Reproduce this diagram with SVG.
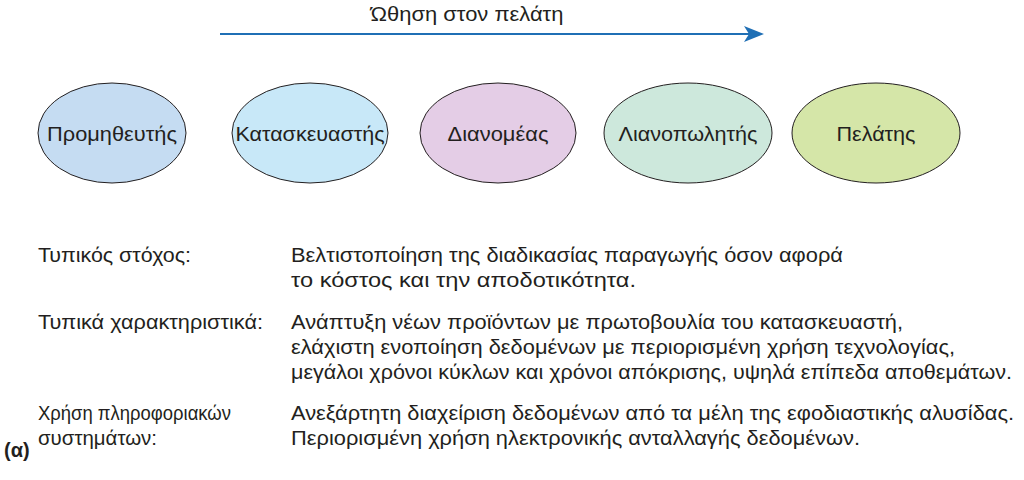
<svg xmlns="http://www.w3.org/2000/svg" width="1024" height="480" viewBox="0 0 1024 480">
<style>
text{font-family:"Liberation Sans",Arial,sans-serif;fill:#231f20}
.n{font-size:20px;text-anchor:middle}
.t{font-size:20px}
ellipse{stroke:#231f20;stroke-width:1}
</style>
<rect width="1024" height="480" fill="#fff"/>
<text x="467" y="21" class="t" text-anchor="middle" textLength="193" lengthAdjust="spacingAndGlyphs">Ώθηση στον πελάτη</text>
<g id="connectors"><path d="M220,34 L752,34" stroke="#1f6fb5" stroke-width="2" fill="none"/><path d="M744,26 L764,34 L744,42 L749,34 Z" fill="#1f6fb5"/></g>
<g id="n1"><ellipse cx="112" cy="133" rx="74" ry="50" fill="#c5dcf2"/><text x="112" y="141" class="n" textLength="130" lengthAdjust="spacingAndGlyphs">Προμηθευτής</text></g>
<g id="n2"><ellipse cx="310" cy="133" rx="78" ry="50" fill="#c8e8f8"/><text x="310" y="141" class="n" textLength="149" lengthAdjust="spacingAndGlyphs">Κατασκευαστής</text></g>
<g id="n3"><ellipse cx="498" cy="133" rx="78" ry="50" fill="#e4cde6"/><text x="498" y="141" class="n" textLength="101" lengthAdjust="spacingAndGlyphs">Διανομέας</text></g>
<g id="n4"><ellipse cx="688" cy="133" rx="84" ry="50" fill="#cde8dc"/><text x="688" y="141" class="n" textLength="139" lengthAdjust="spacingAndGlyphs">Λιανοπωλητής</text></g>
<g id="n5"><ellipse cx="876" cy="133" rx="84" ry="50" fill="#d5e6a8"/><text x="876" y="141" class="n" textLength="79" lengthAdjust="spacingAndGlyphs">Πελάτης</text></g>
<g>
<text x="38" y="262" class="t" textLength="153" lengthAdjust="spacingAndGlyphs">Τυπικός στόχος:</text>
<text x="291" y="262" class="t" textLength="552" lengthAdjust="spacingAndGlyphs">Βελτιστοποίηση της διαδικασίας παραγωγής όσον αφορά</text>
<text x="291" y="287" class="t" textLength="345" lengthAdjust="spacingAndGlyphs">το κόστος και την αποδοτικότητα.</text>
<text x="38" y="329" class="t" textLength="225" lengthAdjust="spacingAndGlyphs">Τυπικά χαρακτηριστικά:</text>
<text x="291" y="329" class="t" textLength="612" lengthAdjust="spacingAndGlyphs">Ανάπτυξη νέων προϊόντων με πρωτοβουλία του κατασκευαστή,</text>
<text x="291" y="354" class="t" textLength="664" lengthAdjust="spacingAndGlyphs">ελάχιστη ενοποίηση δεδομένων με περιορισμένη χρήση τεχνολογίας,</text>
<text x="291" y="379" class="t" textLength="721" lengthAdjust="spacingAndGlyphs">μεγάλοι χρόνοι κύκλων και χρόνοι απόκρισης, υψηλά επίπεδα αποθεμάτων.</text>
<text x="38" y="420" class="t" textLength="193" lengthAdjust="spacingAndGlyphs">Χρήση πληροφοριακών</text>
<text x="38" y="445" class="t" textLength="119" lengthAdjust="spacingAndGlyphs">συστημάτων:</text>
<text x="291" y="420" class="t" textLength="723" lengthAdjust="spacingAndGlyphs">Ανεξάρτητη διαχείριση δεδομένων από τα μέλη της εφοδιαστικής αλυσίδας.</text>
<text x="291" y="445" class="t" textLength="569" lengthAdjust="spacingAndGlyphs">Περιορισμένη χρήση ηλεκτρονικής ανταλλαγής δεδομένων.</text>
<text x="4" y="457" class="t" font-weight="bold">(α)</text>
</g>
</svg>
